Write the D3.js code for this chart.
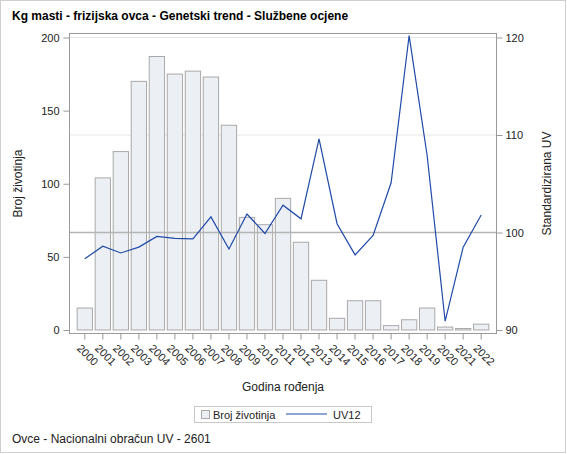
<!DOCTYPE html>
<html><head><meta charset="utf-8">
<script src="https://cdn.jsdelivr.net/npm/d3@7"></script>
<style>
body{margin:0;background:#fff;}
svg{display:block;font-family:"Liberation Sans",Arial,sans-serif;}
</style></head><body>
<svg id="c" width="567" height="454"></svg>
<script>
const years = ["2000","2001","2002","2003","2004","2005","2006","2007","2008","2009","2010","2011","2012","2013","2014","2015","2016","2017","2018","2019","2020","2021","2022"];
const counts = [15,104,122,170,187,175,177,173,140,77,72,90,60,34,8,20,20,3,7,15,2,1,4];
const uv12 = [97.3,98.6,97.9,98.5,99.6,99.4,99.35,101.6,98.3,101.9,99.9,102.8,101.4,109.6,100.9,97.7,99.7,105.1,120.2,107.9,90.9,98.5,101.8];
const leftTicks = [0,50,100,150,200];
const rightTicks = [90,100,110,120];
const title = "Kg masti - frizijska ovca - Genetski trend - Službene ocjene";
const footnote = "Ovce - Nacionalni obračun UV - 2601";

const svg = d3.select("#c");
const L = 69.5, R = 496.5, T = 33.5, B = 333.5;
const x = d3.scaleBand().domain(years).range([L + 6.3, R - 6.3]).paddingInner(0.15).paddingOuter(0.075);
const yL = d3.scaleLinear().domain([0,200]).range([330, 37.5]);
const yR = d3.scaleLinear().domain([90,120]).range([330, 37.5]);

// outer border
svg.append("rect").attr("x",0.5).attr("y",0.5).attr("width",565).attr("height",452)
  .attr("fill","none").attr("stroke","#cfcfcf");

svg.append("text").attr("x",12).attr("y",20).attr("font-size",12).attr("font-weight","bold")
  .attr("fill","#000").text(title);

// gridlines from right axis
svg.append("g").selectAll("line").data([110,120]).join("line")
  .attr("x1",L).attr("x2",R).attr("y1",d=>yR(d)).attr("y2",d=>yR(d))
  .attr("stroke","#e6e6e6").attr("stroke-width",1);

// bars
svg.append("g").selectAll("rect").data(years).join("rect")
  .attr("x",d=>x(d)).attr("width",x.bandwidth())
  .attr("y",(d,i)=>yL(counts[i])).attr("height",(d,i)=>yL(0)-yL(counts[i]))
  .attr("fill","#eceff4").attr("stroke","#a9a9a9").attr("stroke-width",1);

// reference line at 100
svg.append("line").attr("x1",L).attr("x2",R).attr("y1",yR(100)).attr("y2",yR(100))
  .attr("stroke","#b4b4b4").attr("stroke-width",1.6);

// line
const line = d3.line().x((d,i)=>x(years[i])+x.bandwidth()/2).y(d=>yR(d));
svg.append("path").datum(uv12).attr("d",line).attr("fill","none")
  .attr("stroke","#1f4aa8").attr("stroke-width",1.2);

// frame
svg.append("rect").attr("x",L).attr("y",T).attr("width",R-L).attr("height",B-T)
  .attr("fill","none").attr("stroke","#9a9a9a");

// axes
const axL = d3.axisLeft(yL).tickValues(leftTicks).tickSize(6).tickPadding(4);
const gL = svg.append("g").attr("transform",`translate(${L},0)`).call(axL);
const axR = d3.axisRight(yR).tickValues(rightTicks).tickSize(6).tickPadding(3);
const gR = svg.append("g").attr("transform",`translate(${R},0)`).call(axR);
const axB = d3.axisBottom(x).tickSize(6).tickSizeOuter(0);
const gB = svg.append("g").attr("transform",`translate(0,${B})`).call(axB);
[gL,gR,gB].forEach(g=>{
  g.select(".domain").remove();
  g.selectAll(".tick line").attr("stroke","#9a9a9a");
  g.selectAll(".tick text").attr("font-size",11).attr("fill","#222").attr("font-family","Liberation Sans, Arial, sans-serif");
});
gB.selectAll(".tick text").attr("text-anchor","start").attr("dy","0.71em")
  .attr("y",0).attr("transform","translate(-3,10) rotate(45)");

// axis titles
svg.append("text").attr("x",(L+R)/2).attr("y",391).attr("text-anchor","middle")
  .attr("font-size",12).attr("fill","#222").text("Godina rođenja");
svg.append("text").attr("transform",`translate(22,${(T+B)/2}) rotate(-90)`).attr("text-anchor","middle")
  .attr("font-size",12).attr("fill","#222").text("Broj životinja");
svg.append("text").attr("transform",`translate(551,${(T+B)/2}) rotate(-90)`).attr("text-anchor","middle")
  .attr("font-size",12).attr("fill","#222").text("Standardizirana UV");

// legend
const lg = svg.append("g");
lg.append("rect").attr("x",194.5).attr("y",406.5).attr("width",177).attr("height",16)
  .attr("fill","#fff").attr("stroke","#c8c8c8");
lg.append("rect").attr("x",201.5).attr("y",410.5).attr("width",8).attr("height",8)
  .attr("fill","#eceff4").attr("stroke","#a9a9a9");
lg.append("text").attr("x",213).attr("y",418.5).attr("font-size",11).attr("fill","#222").text("Broj životinja");
lg.append("line").attr("x1",286).attr("x2",327).attr("y1",414).attr("y2",414)
  .attr("stroke","#1f4aa8").attr("stroke-width",1.2);
lg.append("text").attr("x",333).attr("y",418.5).attr("font-size",11).attr("fill","#222").text("UV12");

svg.append("text").attr("x",12).attr("y",443).attr("font-size",12).attr("fill","#222").text(footnote);
</script></body></html>
